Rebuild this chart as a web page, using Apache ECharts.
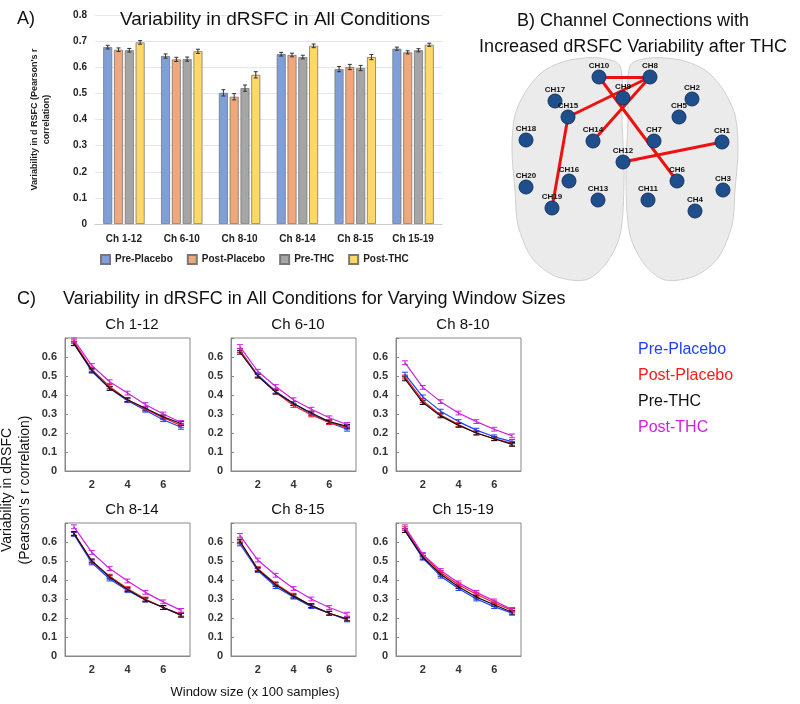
<!DOCTYPE html>
<html><head><meta charset="utf-8">
<script src="https://cdn.jsdelivr.net/npm/echarts@6/dist/echarts.min.js"></script>
<style>html,body{margin:0;background:#fff}#c{width:800px;height:704px}</style>
</head><body><div id="c"></div>
<script>
const conditions = ['Pre-Placebo','Post-Placebo','Pre-THC','Post-THC'];
const barCategories = ['Ch 1-12','Ch 6-10','Ch 8-10','Ch 8-14','Ch 8-15','Ch 15-19'];
const barPrePlacebo  = [0.677,0.643,0.502,0.650,0.593,0.671];
const barPostPlacebo = [0.667,0.630,0.487,0.647,0.601,0.657];
const barPreTHC      = [0.665,0.631,0.520,0.639,0.597,0.665];
const barPostTHC     = [0.695,0.661,0.571,0.682,0.639,0.686];
const barErr = [0.007,0.008,0.012,0.007,0.010,0.006];

const windowSizes = [1,2,3,4,5,6,7];
const panelTitles = ['Ch 1-12','Ch 6-10','Ch 8-10','Ch 8-14','Ch 8-15','Ch 15-19'];
const linePrePlacebo = [
 [.67,.525,.435,.37,.32,.27,.23],[.635,.505,.42,.355,.30,.255,.22],[.51,.39,.315,.26,.215,.18,.155],
 [.64,.49,.405,.345,.295,.255,.215],[.59,.45,.365,.31,.26,.225,.19],[.66,.515,.42,.355,.30,.26,.225]];
const linePostPlacebo = [
 [.68,.535,.445,.375,.325,.28,.24],[.635,.50,.415,.345,.295,.255,.23],[.495,.37,.295,.245,.20,.17,.145],
 [.645,.50,.42,.355,.30,.255,.22],[.60,.46,.38,.32,.265,.225,.195],[.67,.53,.44,.375,.325,.28,.24]];
const linePreTHC = [
 [.67,.53,.435,.375,.33,.285,.25],[.625,.50,.415,.355,.305,.26,.235],[.485,.36,.29,.24,.20,.17,.14],
 [.645,.50,.415,.35,.295,.255,.215],[.605,.455,.375,.315,.265,.225,.195],[.66,.52,.43,.365,.31,.27,.23]];
const linePostTHC = [
 [.69,.555,.47,.41,.35,.30,.255],[.655,.525,.445,.375,.325,.28,.245],[.57,.44,.365,.305,.26,.22,.185],
 [.68,.545,.46,.395,.335,.285,.24],[.635,.505,.425,.355,.30,.255,.22],[.68,.535,.45,.385,.335,.29,.245]];
const lineErr = 0.01;

const channelNames = ['CH10','CH8','CH9','CH17','CH2','CH15','CH5','CH18','CH14','CH7','CH1','CH12','CH16','CH20','CH6','CH3','CH13','CH11','CH19','CH4'];
const channelX = [599,650,623,555,692,568,679,526,593,654,722,623,569,526,677,723,598,648,552,695];
const channelY = [77,77,98,101,99,117,117,140,141,141,142,162,181,187,181,190,200,200,208,211];
const connections = [['CH1','CH12'],['CH6','CH10'],['CH8','CH10'],['CH8','CH14'],['CH8','CH15'],['CH15','CH19']];

const barColors = ['#7f9fd8','#f2a77a','#a5a5a5','#ffd966'];
const lineColors = ['#1f3fff','#ff1a1a','#111111','#d020e0'];

const grids = [], xAxes = [], yAxes = [], series = [], titles = [];
grids.push({left:95,top:15,width:347,height:209});
xAxes.push({type:'category',gridIndex:0,data:barCategories,axisTick:{show:false},axisLine:{lineStyle:{color:'#ccc'}},
  axisLabel:{fontWeight:'bold',fontSize:10,color:'#222',margin:10}});
yAxes.push({type:'value',gridIndex:0,min:0,max:0.8,interval:0.1,axisLine:{show:false},axisTick:{show:false},
  splitLine:{lineStyle:{color:'#e6e6e6'}},axisLabel:{fontWeight:'bold',fontSize:10,color:'#222',formatter:v=>String(+v.toFixed(1))},
  name:"Variability in d RSFC (Pearson's r\ncorrelation)",nameLocation:'middle',nameGap:42,nameRotate:90,
  nameTextStyle:{fontWeight:'bold',fontSize:9,color:'#222',lineHeight:12}});
const barSets = [barPrePlacebo,barPostPlacebo,barPreTHC,barPostTHC];
barSets.forEach((d,i)=>{
  series.push({type:'bar',name:conditions[i],xAxisIndex:0,yAxisIndex:0,data:d,barWidth:9,barGap:'20%',
    itemStyle:{color:barColors[i],borderColor:'#777',borderWidth:0.8}});
  series.push({type:'custom',xAxisIndex:0,yAxisIndex:0,silent:true,z:4,data:d.map((v,j)=>[j,v,barErr[j]]),
    renderItem:(p,api)=>{const j=api.value(0),v=api.value(1),e=api.value(2);
      const c=api.coord([j,v]);const off=(i-1.5)*10.8;const t=api.coord([j,v+e]),b=api.coord([j,v-e]);
      const x=c[0]+off;
      return {type:'group',children:[
        {type:'line',shape:{x1:x,y1:t[1],x2:x,y2:b[1]},style:{stroke:'#333',lineWidth:1}},
        {type:'line',shape:{x1:x-2,y1:t[1],x2:x+2,y2:t[1]},style:{stroke:'#333',lineWidth:1}},
        {type:'line',shape:{x1:x-2,y1:b[1],x2:x+2,y2:b[1]},style:{stroke:'#333',lineWidth:1}}]};}});
});
grids.push({left:480,top:60,width:300,height:240});
xAxes.push({type:'value',gridIndex:1,min:480,max:780,show:false});
yAxes.push({type:'value',gridIndex:1,min:60,max:300,inverse:true,show:false});
const idx = n=>channelNames.indexOf(n);
series.push({type:'graph',coordinateSystem:'cartesian2d',xAxisIndex:1,yAxisIndex:1,z:5,
  symbolSize:14,itemStyle:{color:'#1f4e8c',borderColor:'#13335e',borderWidth:1},
  label:{show:true,position:'top',distance:0,fontSize:8,fontWeight:'bold',color:'#111',formatter:p=>p.name},
  data:channelNames.map((n,i)=>({name:n,value:[channelX[i],channelY[i]]})),
  links:connections.map(c=>({source:idx(c[0]),target:idx(c[1])})),
  lineStyle:{color:'#ee1111',width:3,opacity:1}});
const pLeft=[65,231,396], pTop=[338,523];
for(let k=0;k<6;k++){
  const gi=k+2, col=k%3, row=Math.floor(k/3);
  grids.push({left:pLeft[col],top:pTop[row],width:125,height:133,show:true,borderColor:'#888',borderWidth:1});
  xAxes.push({type:'value',gridIndex:gi,min:0.5,max:7.5,interval:0.5,splitLine:{show:false},axisTick:{show:false},
    axisLine:{lineStyle:{color:'#888'}},axisLabel:{fontWeight:'bold',fontSize:11,color:'#333',
    formatter:v=>(v===2||v===4||v===6)?String(v):''}});
  yAxes.push({type:'value',gridIndex:gi,min:0,max:0.7,interval:0.1,splitLine:{show:false},
    axisTick:{show:true,inside:true,length:3,lineStyle:{color:'#888'}},axisLine:{show:true,lineStyle:{color:'#888'}},
    axisLabel:{fontWeight:'bold',fontSize:11,color:'#333',formatter:v=>v>=0.69?'':String(+v.toFixed(1))}});
  titles.push({text:panelTitles[k],left:pLeft[col]+62,top:pTop[row]-26,textAlign:'center',
    textStyle:{fontSize:15,fontWeight:'normal',color:'#111'}});
  [linePrePlacebo,linePostPlacebo,linePreTHC,linePostTHC].forEach((set,i)=>{
    const d=set[k].map((v,j)=>[windowSizes[j],v]);
    series.push({type:'line',xAxisIndex:gi,yAxisIndex:gi,data:d,symbol:'none',lineStyle:{color:lineColors[i],width:1.2},z:3+(i===3?1:0)});
    series.push({type:'custom',xAxisIndex:gi,yAxisIndex:gi,silent:true,data:d,z:3,
      renderItem:(p,api)=>{const x=api.value(0),v=api.value(1);const t=api.coord([x,v+lineErr]),b=api.coord([x,v-lineErr]);
        const s={stroke:lineColors[i],lineWidth:1};
        return {type:'group',children:[
          {type:'line',shape:{x1:t[0],y1:t[1],x2:t[0],y2:b[1]},style:s},
          {type:'line',shape:{x1:t[0]-3,y1:t[1],x2:t[0]+3,y2:t[1]},style:s},
          {type:'line',shape:{x1:t[0]-3,y1:b[1],x2:t[0]+3,y2:b[1]},style:s}]};}});
  });
}
titles.push({text:'A)',left:12,top:5,textStyle:{fontSize:18,fontWeight:'normal',color:'#111'}});
titles.push({text:'Variability in dRSFC in All Conditions',left:270,top:5,textAlign:'center',textStyle:{fontSize:19,fontWeight:'normal',color:'#111'}});
titles.push({text:'B) Channel Connections with\nIncreased dRSFC Variability after THC',left:628,top:3,textAlign:'center',
  textStyle:{fontSize:18,fontWeight:'normal',color:'#111',lineHeight:26}});
titles.push({text:'C)',left:12,top:285,textStyle:{fontSize:18,fontWeight:'normal',color:'#111'}});
titles.push({text:'Variability in dRSFC in All Conditions for Varying Window Sizes',left:58,top:285,textStyle:{fontSize:18,fontWeight:'normal',color:'#111'}});
titles.push({text:'Window size (x 100 samples)',left:250,top:681,textAlign:'center',textStyle:{fontSize:13,fontWeight:'normal',color:'#111'}});

const lobeL = [[620,66],[600,58],[570,60],[545,70],[528,88],[515,115],[512,150],[515,190],[518,225],[532,258],[555,276],[585,280],[605,265],[620,235],[624,180],[622,120]];
const lobeR = lobeL.map(p=>[1250-p[0],p[1]]);
const option = {
  animation:false,
  title:titles,
  grid:grids, xAxis:xAxes, yAxis:yAxes, series:series,
  legend:[{data:conditions,left:95,top:249,itemWidth:9,itemHeight:9,itemGap:14,icon:'rect',
    textStyle:{fontWeight:'bold',fontSize:10,color:'#222'}}],
  graphic:[
    {type:'text',x:16,y:490,rotation:Math.PI/2,style:{text:"Variability in dRSFC\n(Pearson's r correlation)",fontSize:14,fill:'#111',align:'center',verticalAlign:'middle',lineHeight:18}},
    {type:'text',x:638,y:342,style:{text:'Pre-Placebo',fontSize:16,fill:lineColors[0]}},
    {type:'text',x:638,y:368,style:{text:'Post-Placebo',fontSize:16,fill:lineColors[1]}},
    {type:'text',x:638,y:394,style:{text:'Pre-THC',fontSize:16,fill:lineColors[2]}},
    {type:'text',x:638,y:420,style:{text:'Post-THC',fontSize:16,fill:lineColors[3]}},
    {type:'polygon',z:-1,shape:{points:lobeL,smooth:0.3},style:{fill:'#ebebeb',stroke:'#cfcfcf',lineWidth:1}},
    {type:'polygon',z:-1,shape:{points:lobeR,smooth:0.3},style:{fill:'#ebebeb',stroke:'#cfcfcf',lineWidth:1}}
  ]
};
echarts.init(document.getElementById('c')).setOption(option);
</script></body></html>
